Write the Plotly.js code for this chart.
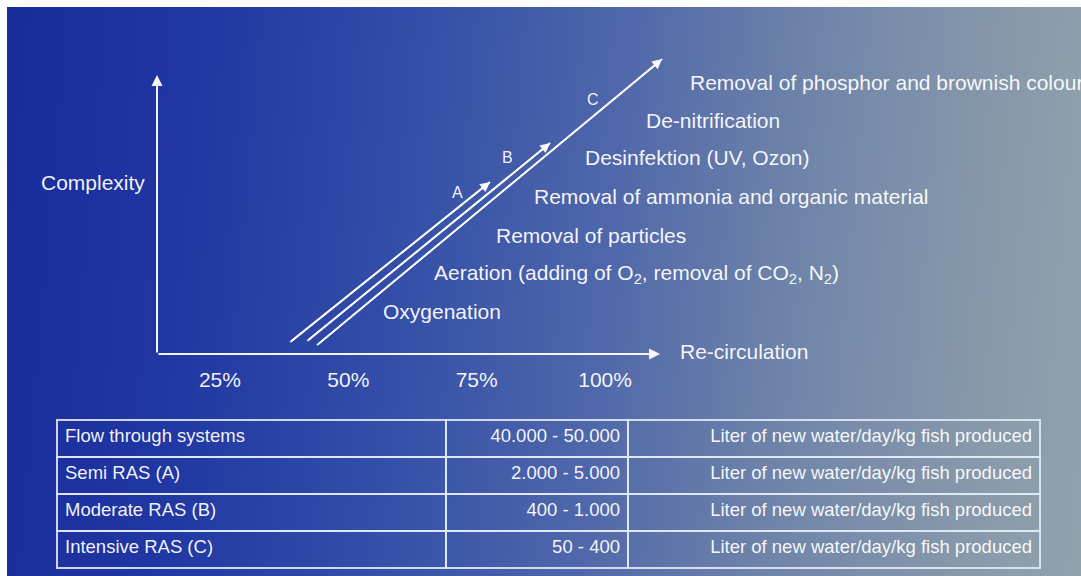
<!DOCTYPE html>
<html><head><meta charset="utf-8">
<script src="https://cdn.plot.ly/plotly-3.0.1.min.js"></script>
<style>
html,body{margin:0;padding:0;background:#fff;overflow:hidden;}
#bg{position:absolute;left:7px;top:7px;width:1074px;height:569px;
 background:linear-gradient(95deg,#182c9c 0%,#2137a3 18%,#3550a8 38%,#4f67aa 55%,#6f84a9 72%,#8697ab 88%,#91a2ad 100%);}
#chart{position:absolute;left:0;top:0;width:1081px;height:576px;}
</style></head><body>
<div id="bg"></div><div id="chart"></div>
<script>
// Pathways A, B, C (recirculation %, complexity units)
const pathways = ['A', 'B', 'C'];
const startRecirc = [38.7, 42.0, 43.9];
const startComplexity = [0.34, 0.37, 0.25];
const endRecirc = [77.6, 89.3, 111.1];
const endComplexity = [4.86, 5.96, 8.33];
const pathwayLabelRecirc = [71.2, 80.9, 97.7];
const pathwayLabelComplexity = [4.55, 5.54, 7.18];

// Treatment steps
const steps = [
  'Oxygenation',
  'Aeration (adding of O<sub>2</sub>, removal of CO<sub>2</sub>, N<sub>2</sub>)',
  'Removal of particles',
  'Removal of ammonia and organic material',
  'Desinfektion (UV, Ozon)',
  'De-nitrification',
  'Removal of phosphor and brownish colour'
];
const stepRecirc = [56.4, 66.3, 78.4, 85.8, 95.7, 107.6, 116.1];
const stepComplexity = [1.19, 2.26, 3.36, 4.44, 5.54, 6.61, 7.68];

// Axis ticks
const recircTicks = [25, 50, 75, 100];
const recircTickText = ['25%', '50%', '75%', '100%'];

// Table
const systems = ['Flow through systems', 'Semi RAS (A)', 'Moderate RAS (B)', 'Intensive RAS (C)'];
const waterUse = ['40.000 - 50.000', '2.000 - 5.000', '400 - 1.000', '50 - 400'];
const units = ['Liter of new water/day/kg fish produced', 'Liter of new water/day/kg fish produced',
               'Liter of new water/day/kg fish produced', 'Liter of new water/day/kg fish produced'];

const FONT = 'Liberation Sans, Arial, sans-serif';
const W = 'rgba(255,255,255,0.95)';

const traces = [];
pathways.forEach((p, i) => {
  traces.push({
    type: 'scatter', mode: 'lines', name: p,
    x: [startRecirc[i], endRecirc[i]], y: [startComplexity[i], endComplexity[i]],
    line: {color: W, width: 1.8}, hoverinfo: 'skip', showlegend: false
  });
});
traces.push({
  type: 'table',
  domain: {x: [57/1081, 1040/1081], y: [0, 1 - 420/576]},
  columnwidth: [389, 182, 412],
  header: {
    values: [[systems[0]], [waterUse[0]], [units[0]]],
    align: ['left', 'right', 'right'], height: 37,
    fill: {color: 'rgba(0,0,0,0)'},
    line: {color: 'rgba(225,232,245,0.9)', width: 1.5},
    font: {family: FONT, size: 18.5, color: W}
  },
  cells: {
    values: [systems.slice(1), waterUse.slice(1), units.slice(1)],
    align: ['left', 'right', 'right'], height: 37,
    fill: {color: 'rgba(0,0,0,0)'},
    line: {color: 'rgba(225,232,245,0.9)', width: 1.5},
    font: {family: FONT, size: 18.5, color: W}
  }
});

const annotations = [];
// axis arrows
const axisOriginX = 12.75, axisTopY = 7.88, axisEndX = 110.7;
annotations.push({x: axisOriginX, y: axisTopY, ax: axisOriginX, ay: 0, axref: 'x', ayref: 'y', xref: 'x', yref: 'y',
  text: '', showarrow: true, arrowhead: 2, arrowsize: 1.1, arrowwidth: 2, arrowcolor: W, standoff: 0});
annotations.push({x: axisEndX, y: 0, ax: axisOriginX, ay: 0, axref: 'x', ayref: 'y', xref: 'x', yref: 'y',
  text: '', showarrow: true, arrowhead: 2, arrowsize: 1.1, arrowwidth: 2, arrowcolor: W, standoff: 0});
// pathway arrowheads + labels
pathways.forEach((p, i) => {
  annotations.push({x: endRecirc[i], y: endComplexity[i], ax: startRecirc[i], ay: startComplexity[i],
    axref: 'x', ayref: 'y', xref: 'x', yref: 'y', text: '', showarrow: true,
    arrowhead: 2, arrowsize: 1.1, arrowwidth: 1.8, arrowcolor: W, standoff: 0});
  annotations.push({x: pathwayLabelRecirc[i], y: pathwayLabelComplexity[i], xref: 'x', yref: 'y',
    text: p, showarrow: false, xanchor: 'center', yanchor: 'middle',
    font: {family: FONT, size: 16, color: W}});
});
steps.forEach((s, i) => {
  annotations.push({x: stepRecirc[i], y: stepComplexity[i], xref: 'x', yref: 'y', text: s,
    showarrow: false, xanchor: 'left', yanchor: 'middle', font: {family: FONT, size: 21, color: W}});
});
annotations.push({x: 39/1081, y: 1 - 182/576, xref: 'paper', yref: 'paper', text: 'Complexity',
  showarrow: false, xanchor: 'left', yanchor: 'middle', font: {family: FONT, size: 21, color: W}});
annotations.push({x: 678/1081, y: 1 - 351/576, xref: 'paper', yref: 'paper', text: 'Re-circulation',
  showarrow: false, xanchor: 'left', yanchor: 'middle', font: {family: FONT, size: 21, color: W}});

const layout = {
  width: 1081, height: 576,
  margin: {l: 0, r: 0, t: 0, b: 0, pad: 0},
  paper_bgcolor: 'rgba(0,0,0,0)', plot_bgcolor: 'rgba(0,0,0,0)',
  showlegend: false,
  xaxis: {domain: [0, 1], range: [-17.82, 192.66], showgrid: false, zeroline: false, showline: false,
    tickvals: recircTicks, ticktext: recircTickText, ticks: '', ticklabelstandoff: 11,
    tickfont: {family: FONT, size: 21, color: W}, fixedrange: true},
  yaxis: {domain: [1 - 354/576, 1], range: [0, 10], showgrid: false, zeroline: false, showline: false,
    showticklabels: false, ticks: '', fixedrange: true},
  annotations: annotations
};
Plotly.newPlot('chart', traces, layout, {displayModeBar: false, staticPlot: true});
</script>
</body></html>
